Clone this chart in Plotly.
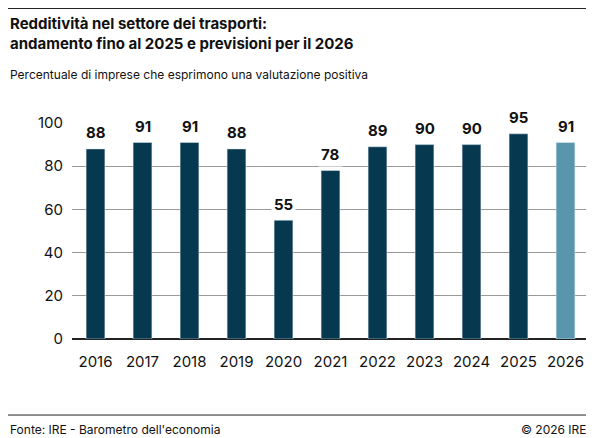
import plotly.graph_objects as go

years = ["2016", "2017", "2018", "2019", "2020", "2021", "2022", "2023", "2024", "2025", "2026"]
values = [88, 91, 91, 88, 55, 78, 89, 90, 90, 95, 91]
colors = ["#06384f"] * 10 + ["#5996ad"]

fig = go.Figure(go.Bar(x=years, y=values, marker_color=colors, width=0.4))

labels = []
for i, v in enumerate(values):
    labels.append(dict(x=i, y=v, xref="x", yref="y", text="<b>%d</b>" % v, showarrow=False, yshift=16,
                       font=dict(size=15, color="#111"), bgcolor="white", borderpad=2))

fig.update_layout(
    width=586, height=430, plot_bgcolor="white", paper_bgcolor="white",
    font=dict(family="Inter", color="#111"),
    margin=dict(l=64, r=5, t=115, b=99, autoexpand=False),
    showlegend=False,
    xaxis=dict(type="category", categoryorder="array", categoryarray=years, range=[-0.5, 10.5],
               tickfont=dict(size=15), showline=False, ticks="", ticklabelstandoff=12),
    yaxis=dict(range=[0, 100], tickvals=[0, 20, 40, 60, 80, 100], tickfont=dict(size=15),
               gridcolor="#999", gridwidth=1, zeroline=True, zerolinecolor="#222",
               zerolinewidth=2, ticklabelstandoff=8),
    shapes=[
        dict(type="line", xref="paper", yref="paper", x0=-0.124, x1=1.01, y0=1.53, y1=1.53,
             line=dict(color="#222", width=1)),
        dict(type="line", xref="paper", yref="paper", x0=-0.124, x1=1.01, y0=-0.352, y1=-0.352,
             line=dict(color="#222", width=1)),
    ],
    annotations=labels + [
        dict(xref="paper", yref="paper", x=-0.124, y=1.515, xanchor="left", yanchor="top", showarrow=False,
             align="left", text="<b>Redditività nel settore dei trasporti:<br>andamento fino al 2025 e previsioni per il 2026</b>",
             font=dict(size=15)),
        dict(xref="paper", yref="paper", x=-0.124, y=1.27, xanchor="left", yanchor="top", showarrow=False,
             text="Percentuale di imprese che esprimono una valutazione positiva", font=dict(size=12)),
        dict(xref="paper", yref="paper", x=-0.124, y=-0.375, xanchor="left", yanchor="top", showarrow=False,
             text="Fonte: IRE - Barometro dell'economia", font=dict(size=12)),
        dict(xref="paper", yref="paper", x=1.0, y=-0.375, xanchor="right", yanchor="top", showarrow=False,
             text="© 2026 IRE", font=dict(size=12)),
    ],
)

fig.write_html("out.html")
